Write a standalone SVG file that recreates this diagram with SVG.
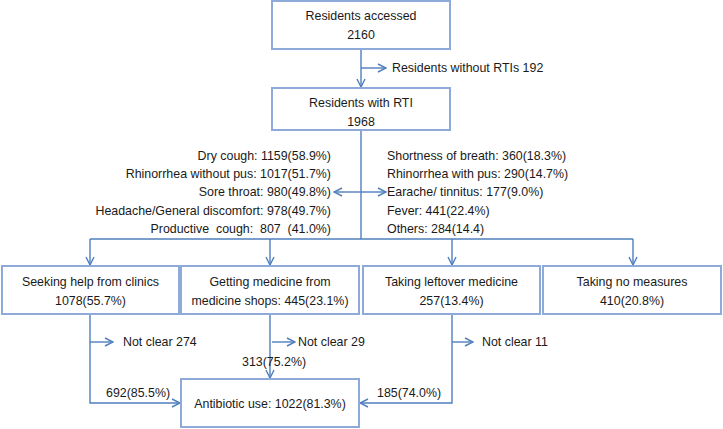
<svg xmlns="http://www.w3.org/2000/svg" width="723" height="429" viewBox="0 0 723 429">
<style>
text{font-family:"Liberation Sans",Arial,sans-serif;font-size:12.4px;fill:#1a1a1a}
.c{text-anchor:middle}
.r{text-anchor:end}
.box{fill:#fff;stroke:#8eaadb;stroke-width:2}
.ln{fill:none;stroke:#4f7fbd;stroke-width:1.4}
</style>
<defs>
<marker id="ah" viewBox="0 0 10 10" refX="9" refY="5" markerWidth="10" markerHeight="10" markerUnits="userSpaceOnUse" orient="auto">
<path d="M1,1 L9,5 L1,9" fill="none" stroke="#4f7fbd" stroke-width="1.4"/>
</marker>
</defs>
<rect width="723" height="429" fill="#fff"/>
<g id="connectors">
<path class="ln" d="M361,50 V87" marker-end="url(#ah)"/>
<path class="ln" d="M361,68 H386" marker-end="url(#ah)"/>
<path class="ln" d="M361,130 V239"/>
<path class="ln" d="M361,192 H334" marker-end="url(#ah)"/>
<path class="ln" d="M361,192 H386" marker-end="url(#ah)"/>
<path class="ln" d="M90,239 H633"/>
<path class="ln" d="M90,239 V265" marker-end="url(#ah)"/>
<path class="ln" d="M270,239 V265" marker-end="url(#ah)"/>
<path class="ln" d="M452,239 V265" marker-end="url(#ah)"/>
<path class="ln" d="M633,239 V265" marker-end="url(#ah)"/>
<path class="ln" d="M90,315 V403 H180" marker-end="url(#ah)"/>
<path class="ln" d="M90,342 H113" marker-end="url(#ah)"/>
<path class="ln" d="M270,315 V378" marker-end="url(#ah)"/>
<path class="ln" d="M272,342 H295" marker-end="url(#ah)"/>
<path class="ln" d="M452,315 V403 H360" marker-end="url(#ah)"/>
<path class="ln" d="M452,342 H473" marker-end="url(#ah)"/>
</g>
<g id="n-accessed">
<rect class="box" x="272" y="1" width="178" height="48"/>
<text class="c" x="361" y="20">Residents accessed</text>
<text class="c" x="361" y="39">2160</text>
</g>
<g id="n-without">
<text x="392" y="72">Residents without RTIs 192</text>
</g>
<g id="n-with">
<rect class="box" x="272" y="88" width="178" height="42"/>
<text class="c" x="361" y="107">Residents with RTI</text>
<text class="c" x="361" y="126">1968</text>
</g>
<g id="n-symptoms-left">
<text class="r" x="331" y="159.5">Dry cough: 1159(58.9%)</text>
<text class="r" x="331" y="178">Rhinorrhea without pus: 1017(51.7%)</text>
<text class="r" x="331" y="196">Sore throat: 980(49.8%)</text>
<text class="r" x="331" y="214.5">Headache/General discomfort: 978(49.7%)</text>
<text class="r" x="331" y="233" xml:space="preserve">Productive  cough:  807  (41.0%)</text>
</g>
<g id="n-symptoms-right">
<text x="387" y="159.5">Shortness of breath: 360(18.3%)</text>
<text x="387" y="178">Rhinorrhea with pus: 290(14.7%)</text>
<text x="387" y="196">Earache/ tinnitus: 177(9.0%)</text>
<text x="387" y="214.5">Fever: 441(22.4%)</text>
<text x="387" y="233">Others: 284(14.4)</text>
</g>
<g id="n-clinics">
<rect class="box" x="2" y="266" width="177" height="48"/>
<text class="c" x="90.5" y="286">Seeking help from clinics</text>
<text class="c" x="90.5" y="305">1078(55.7%)</text>
</g>
<g id="n-shops">
<rect class="box" x="181" y="266" width="178" height="48"/>
<text class="c" x="270" y="286">Getting medicine from</text>
<text class="c" x="270" y="305">medicine shops: 445(23.1%)</text>
</g>
<g id="n-leftover">
<rect class="box" x="363" y="266" width="177" height="48"/>
<text class="c" x="451.5" y="286">Taking leftover medicine</text>
<text class="c" x="451.5" y="305">257(13.4%)</text>
</g>
<g id="n-none">
<rect class="box" x="543" y="266" width="178" height="48"/>
<text class="c" x="632" y="286">Taking no measures</text>
<text class="c" x="632" y="305">410(20.8%)</text>
</g>
<g id="n-notclear">
<text x="123" y="346">Not clear 274</text>
<text x="298" y="346">Not clear 29</text>
<text x="482" y="346">Not clear 11</text>
</g>
<g id="n-labels">
<text x="106" y="397">692(85.5%)</text>
<text x="242" y="366">313(75.2%)</text>
<text x="377" y="397">185(74.0%)</text>
</g>
<g id="n-antibiotic">
<rect class="box" x="181" y="379" width="178" height="48"/>
<text class="c" x="270" y="408">Antibiotic use: 1022(81.3%)</text>
</g>
</svg>
